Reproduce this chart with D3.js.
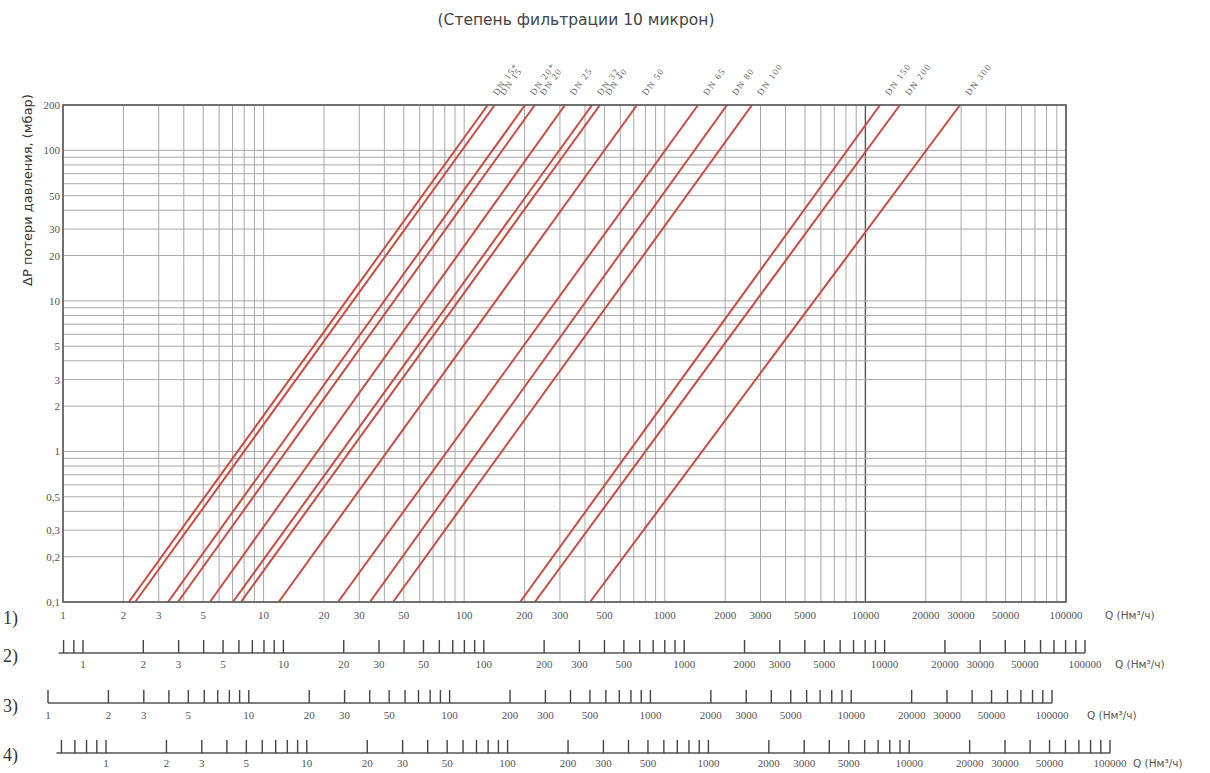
<!DOCTYPE html>
<html>
<head>
<meta charset="utf-8">
<script src="https://cdn.jsdelivr.net/npm/d3@7"></script>
<style>
	body { margin: 0; background: #fff; }
	svg { display: block; }
</style>
</head>
<body>
<svg id="chart" width="1210" height="773"></svg>
<script>
const titleText = '(Степень фильтрации 10 микрон)';
const yTitleText = 'ΔP потери давления, (мбар)';
const qUnitText = 'Q (Нм³/ч)';

const dnLabels = ['DN 15*', 'DN 15', 'DN 20*', 'DN 20', 'DN 25', 'DN 32', 'DN 40', 'DN 50', 'DN 65', 'DN 80', 'DN 100', 'DN 150', 'DN 200', 'DN 300'];
// Q where each line meets 0,1 mbar and 200 mbar
const qAtLowDp = [2.13, 2.29, 3.34, 3.74, 5.4, 7.03, 7.71, 11.9, 23.5, 33.9, 44.2, 190, 225, 424];
const qAtHighDp = [131, 142, 201, 225, 318, 434, 475, 727, 1465, 2043, 2722, 11830, 14860, 29630];

const dpTicks = [200, 100, 50, 30, 20, 10, 5, 3, 2, 1, 0.5, 0.3, 0.2, 0.1];
const dpTickLabels = ['200', '100', '50', '30', '20', '10', '5', '3', '2', '1', '0,5', '0,3', '0,2', '0,1'];
const qTicks = [1, 2, 3, 5, 10, 20, 30, 50, 100, 200, 300, 500, 1000, 2000, 3000, 5000, 10000, 20000, 30000, 50000, 100000];

const scaleRowNames = ['1)', '2)', '3)', '4)'];
const scaleRowFirstTicks = [1, 0.8, 1, 0.6];

const FilterChart = {
	plot: { left: 63, right: 1066, top: 105, bottom: 602 },
	rows: [
		{ one: 63, end: 1066, lineY: 602, labelY: 615, nameY: 618, unitX: 1105 },
		{ one: 83, end: 1085, lineY: 653, labelY: 664, nameY: 656, unitX: 1115 },
		{ one: 48, end: 1052, lineY: 703, labelY: 715, nameY: 706, unitX: 1087 },
		{ one: 106, end: 1110, lineY: 753, labelY: 763, nameY: 755, unitX: 1133 }
	],
	serif: '"Liberation Serif", "DejaVu Serif", serif',
	sans: '"DejaVu Sans", Verdana, sans-serif',
	lineColour: '#c94a40',
	gridColour: '#a8a8a8',

	draw: function() {
		const self = this;
		self.svg = d3.select('#chart');
		self.x = d3.scaleLog()
			.domain([1, 100000])
			.range([self.plot.left, self.plot.right]);
		self.y = d3.scaleLog()
			.domain([0.1, 200])
			.range([self.plot.bottom, self.plot.top]);

		self.drawGrid();
		self.drawLines();
		self.drawFrame();
		self.drawYAxis();
		self.drawScaleRows();
		self.drawTitles();
	},

	drawGrid: function() {
		const self = this;
		let grid = self.svg.append('g');

		grid.selectAll('.vgrid')
			.data(self.x.ticks())
			.enter()
			.append('line')
			.attr('x1', d => self.x(d))
			.attr('x2', d => self.x(d))
			.attr('y1', self.plot.top)
			.attr('y2', self.plot.bottom)
			.style('stroke', d => d == 10000 ? '#555' : self.gridColour)
			.style('stroke-width', d => d == 10000 ? 1.4 : 1);

		grid.selectAll('.hgrid')
			.data(self.y.ticks())
			.enter()
			.append('line')
			.attr('x1', self.plot.left)
			.attr('x2', self.plot.right)
			.attr('y1', d => self.y(d))
			.attr('y2', d => self.y(d))
			.style('stroke', self.gridColour)
			.style('stroke-width', 1);
	},
	drawLines: function() {
		const self = this;
		let lineData = dnLabels.map(function(label, i) {
			return { label: label, points: [[qAtLowDp[i], 0.1], [qAtHighDp[i], 200]] };
		});
		let line = d3.line()
			.x(d => self.x(d[0]))
			.y(d => self.y(d[1]));

		self.svg.append('g')
			.selectAll('path')
			.data(lineData)
			.enter()
			.append('path')
			.attr('d', d => line(d.points))
			.style('fill', 'none')
			.style('stroke', self.lineColour)
			.style('stroke-width', 2);

		// labels continue each line above the frame
		self.svg.append('g')
			.selectAll('text')
			.data(lineData)
			.enter()
			.append('text')
			.attr('transform', function(d) {
				let x0 = self.x(d.points[0][0]), y0 = self.y(d.points[0][1]);
				let x1 = self.x(d.points[1][0]), y1 = self.y(d.points[1][1]);
				let rise = 9;
				let lx = x1 + (x1 - x0) / (y0 - y1) * rise + 3;
				let angle = Math.atan2(y0 - y1, x1 - x0) * 180 / Math.PI;
				return 'translate(' + lx + ',' + (self.plot.top - rise) + ') rotate(' + (-angle) + ')';
			})
			.style('font-family', self.serif)
			.style('font-size', '9px')
			.style('letter-spacing', '1.4px')
			.style('fill', '#666')
			.text(d => d.label);
	},
	drawFrame: function() {
		const self = this;

		self.svg.append('rect')
			.attr('x', self.plot.left)
			.attr('y', self.plot.top)
			.attr('width', self.plot.right - self.plot.left)
			.attr('height', self.plot.bottom - self.plot.top)
			.style('fill', 'none')
			.style('stroke', '#666')
			.style('stroke-width', 1.8);
	},
	drawYAxis: function() {
		const self = this;

		self.svg.append('g')
			.selectAll('text')
			.data(dpTicks)
			.enter()
			.append('text')
			.attr('x', self.plot.left - 3)
			.attr('y', d => self.y(d))
			.attr('text-anchor', 'end')
			.attr('dominant-baseline', 'central')
			.style('font-family', self.serif)
			.style('font-size', '11px')
			.style('fill', '#555')
			.text((d, i) => dpTickLabels[i]);

		self.svg.append('text')
			.attr('transform', 'translate(27,' + 190 + ') rotate(-90)')
			.attr('text-anchor', 'middle')
			.attr('dominant-baseline', 'central')
			.style('font-family', self.sans)
			.style('font-size', '13px')
			.style('fill', '#333')
			.text(yTitleText);
	},
	drawScaleRows: function() {
		const self = this;

		for (let r = 0; r < self.rows.length; r++) {
			let row = self.rows[r];
			let g = self.svg.append('g');
			let rowScale = d3.scaleLog()
				.domain([1, 100000])
				.range([row.one, row.end]);
			let firstTick = scaleRowFirstTicks[r];

			if (r > 0) {
				let tickValues = d3.scaleLog().domain([firstTick, 100000]).ticks();
				let lineStart = rowScale(firstTick) - (firstTick < 1 ? 5 : 0);

				g.append('line')
					.attr('x1', lineStart)
					.attr('x2', row.end)
					.attr('y1', row.lineY)
					.attr('y2', row.lineY)
					.style('stroke', '#555')
					.style('stroke-width', 1.6);

				g.selectAll('.tick')
					.data(tickValues)
					.enter()
					.append('line')
					.attr('x1', d => rowScale(d))
					.attr('x2', d => rowScale(d))
					.attr('y1', row.lineY)
					.attr('y2', row.lineY - 13)
					.style('stroke', '#444')
					.style('stroke-width', 1.4);
			}

			g.selectAll('.label')
				.data(qTicks)
				.enter()
				.append('text')
				.attr('x', d => rowScale(d))
				.attr('y', row.labelY)
				.attr('text-anchor', 'middle')
				.attr('dominant-baseline', 'central')
				.style('font-family', self.serif)
				.style('font-size', '11px')
				.style('fill', '#555')
				.text(d => d);

			g.append('text')
				.attr('x', row.unitX)
				.attr('y', row.labelY)
				.attr('dominant-baseline', 'central')
				.style('font-family', self.sans)
				.style('font-size', '10.5px')
				.style('fill', '#555')
				.text(qUnitText);

			g.append('text')
				.attr('x', 3)
				.attr('y', row.nameY)
				.attr('dominant-baseline', 'central')
				.style('font-family', self.serif)
				.style('font-size', '18px')
				.style('fill', '#333')
				.text(scaleRowNames[r]);
		}
	},
	drawTitles: function() {
		const self = this;

		self.svg.append('text')
			.attr('x', 576)
			.attr('y', 20)
			.attr('text-anchor', 'middle')
			.attr('dominant-baseline', 'central')
			.style('font-family', self.sans)
			.style('font-size', '15.5px')
			.style('fill', '#444')
			.text(titleText);
	}
};

FilterChart.draw();
</script>
</body>
</html>
